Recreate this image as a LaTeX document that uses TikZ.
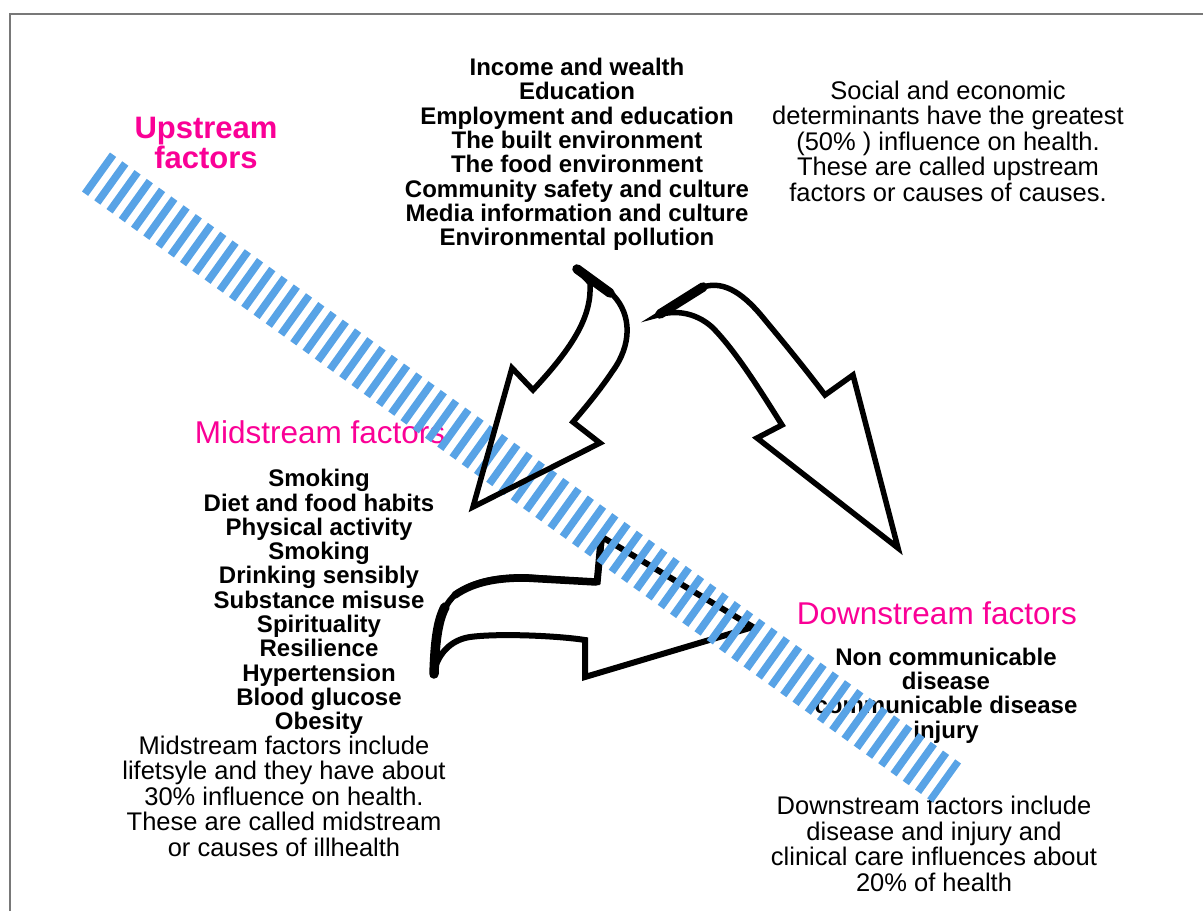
\documentclass[tikz,border=0pt]{standalone}
\usepackage{fontspec}
\setmainfont{Liberation Sans}
\definecolor{hotpink}{RGB}{250,0,150}
\definecolor{stripeblue}{RGB}{88,163,230}
\definecolor{framegray}{RGB}{120,120,120}
\tikzset{
  boldlist/.style={font=\fontsize{24}{24.3}\selectfont\bfseries, align=center, inner sep=0pt},
  plaintext/.style={font=\fontsize{25.5}{25.5}\selectfont, align=center, inner sep=0pt},
  pinkhead/.style={text=hotpink, font=\fontsize{31.5}{31.5}\selectfont, align=center, inner sep=0pt},
  pinkbold/.style={text=hotpink, font=\fontsize{31}{30}\selectfont\bfseries, align=center, inner sep=0pt},
  arrowline/.style={draw=black, line width=5.5pt, line join=miter},
  thickedge/.style={draw=black, line width=9.5pt, line cap=round},
  stripeband/.style={draw=stripeblue, line width=48pt, dash pattern=on 7.54pt off 7.54pt},
  frameline/.style={draw=framegray, line width=2.5pt}
}
\begin{document}
\begin{tikzpicture}[x=1pt,y=-1pt]
\useasboundingbox (0,0) rectangle (1203,911);
\fill[white] (0,0) rectangle (1203,911);
% frame
\coordinate (f1) at (10,911);
\coordinate (f2) at (10,14);
\coordinate (f3) at (1203,14);
\draw[frameline] (f1) -- (f2) -- (f3);

% texts
\node[pinkbold] (uphead) at (206,143) {Upstream\\factors};
\node[boldlist] (uplist) at (577,154.4) {Income and wealth\\Education\\Employment and education\\The built environment\\The food environment\\Community safety and culture\\Media information and culture\\Environmental pollution};
\node[plaintext] (uptext) at (948,141) {Social and economic\\determinants have the greatest\\(50\% ) influence on health.\\These are called upstream\\factors or causes of causes.};
\node[pinkhead] (midhead) at (320,432) {Midstream factors};
\node[boldlist] (midlist) at (319,602) {Smoking\\Diet and food habits\\Physical activity\\Smoking\\Drinking sensibly\\Substance misuse\\Spirituality\\Resilience\\Hypertension\\Blood glucose\\Obesity};
\node[plaintext] (midtext) at (284,796) {Midstream factors include\\lifetsyle and they have about\\30\% influence on health.\\These are called midstream\\or causes of illhealth};
\node[pinkhead] (downhead) at (937,613) {Downstream factors};
\node[boldlist] (downlist) at (946,695.6) {Non communicable\\disease\\communicable disease\\injury};
\node[plaintext] (downtext) at (934,844) {Downstream factors include\\disease and injury and\\clinical care influences about\\20\% of health};

% arrow 3 (midstream to downstream), under the band
\draw[arrowline, line width=6pt] (433,677) .. controls (434,640) and (438,610) .. (455,595)
  .. controls (475,580) and (500,577) .. (525,577)
  -- (597,582) -- (602,537) -- (753,627) -- (585,677) -- (585,640)
  .. controls (560,636) and (500,633) .. (470,637)
  .. controls (450,640) and (436,655) .. (433,677) -- cycle;
\draw[thickedge] (434,674) .. controls (435,645) and (437,622) .. (445,607);
\draw[thickedge, line width=7.5pt] (455,595) .. controls (475,581) and (500,578) .. (525,578) -- (596,582);
\draw[thickedge, line width=7pt, line cap=butt] (597,584) -- (601,540);

% striped band
\coordinate (bandstart) at (96,172);
\coordinate (bandend) at (947,783);
\draw[stripeband] (bandstart) -- (bandend);

% arrow 1 (upstream to midstream)
\draw[arrowline] (575,267) -- (613,295)
  .. controls (632,315) and (632,345) .. (612,372)
  .. controls (600,390) and (585,408) .. (573,422)
  -- (600,443) -- (473,507) -- (512,368) -- (533,390)
  .. controls (575,345) and (592,315) .. (590,283)
  -- cycle;
\draw[thickedge] (577,269) -- (610,293);

% arrow 2 (upstream to downstream)
\draw[arrowline] (658,315) -- (703,287)
  .. controls (725,280) and (745,295) .. (765,320)
  .. controls (790,350) and (810,375) .. (825,395)
  -- (853,375) -- (898,548) -- (757,438) -- (782,425)
  .. controls (760,390) and (735,350) .. (712,327)
  .. controls (695,312) and (675,310) .. (658,315) -- cycle;
\draw[thickedge] (660,314) -- (703,287);
\end{tikzpicture}
\end{document}
